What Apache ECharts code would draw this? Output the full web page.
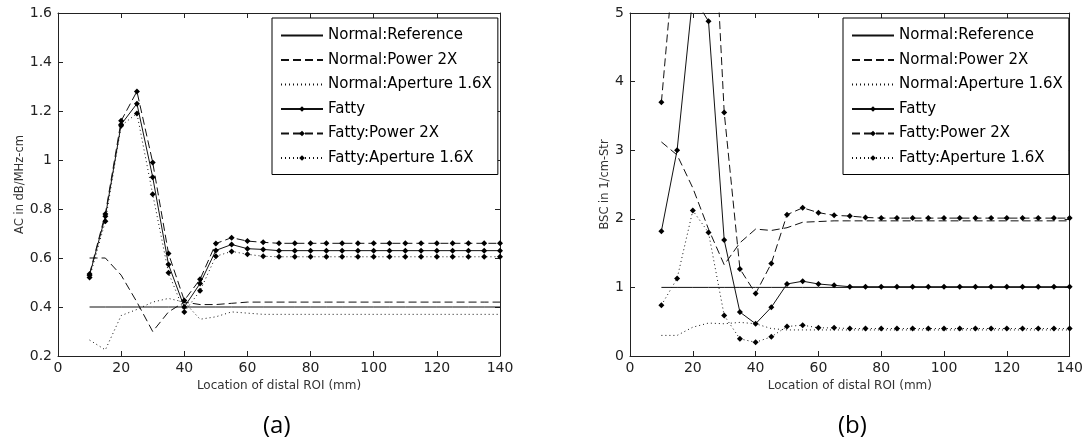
<!DOCTYPE html>
<html>
<head>
<meta charset="utf-8">
<script src="https://cdn.jsdelivr.net/npm/echarts@6/dist/echarts.min.js"></script>
<style>
html,body{margin:0;padding:0;background:#fff;}
#chart{width:1086px;height:448px;}
</style>
</head>
<body>
<div id="chart"></div>
<script>
// ---- data ----
const xLoc = [10,15,20,25,30,35,40,45,50,55,60,65,70,75,80,85,90,95,100,105,110,115,120,125,130,135,140];
const seriesNames = ['Normal:Reference','Normal:Power 2X','Normal:Aperture 1.6X','Fatty','Fatty:Power 2X','Fatty:Aperture 1.6X'];
const xTicks = [0,20,40,60,80,100,120,140];

// (a) AC in dB/MHz-cm
const acNormalRef      = [0.40,0.40,0.40,0.40,0.40,0.40,0.40,0.40,0.40,0.40,0.40,0.40,0.40,0.40,0.40,0.40,0.40,0.40,0.40,0.40,0.40,0.40,0.40,0.40,0.40,0.40,0.40];
const acNormalPower    = [0.60,0.60,0.53,0.42,0.30,0.38,0.42,0.41,0.41,0.415,0.42,0.42,0.42,0.42,0.42,0.42,0.42,0.42,0.42,0.42,0.42,0.42,0.42,0.42,0.42,0.42,0.42];
const acNormalAperture = [0.265,0.225,0.365,0.39,0.42,0.435,0.42,0.35,0.36,0.38,0.375,0.37,0.37,0.37,0.37,0.37,0.37,0.37,0.37,0.37,0.37,0.37,0.37,0.37,0.37,0.37,0.37];
const acFatty          = [0.53,0.77,1.145,1.23,0.93,0.573,0.40,0.496,0.631,0.655,0.638,0.635,0.63,0.63,0.63,0.63,0.63,0.63,0.63,0.63,0.63,0.63,0.63,0.63,0.63,0.63,0.63];
const acFattyPower     = [0.535,0.78,1.16,1.28,0.99,0.618,0.427,0.513,0.659,0.683,0.669,0.664,0.66,0.66,0.66,0.66,0.66,0.66,0.66,0.66,0.66,0.66,0.66,0.66,0.66,0.66,0.66];
const acFattyAperture  = [0.52,0.75,1.14,1.19,0.86,0.54,0.38,0.466,0.607,0.627,0.615,0.607,0.605,0.605,0.605,0.605,0.605,0.605,0.605,0.605,0.605,0.605,0.605,0.605,0.605,0.605,0.605];

// (b) BSC in 1/cm-Str
const bscNormalRef      = [1,1,1,1,1,1,1,1,1,1,1,1,1,1,1,1,1,1,1,1,1,1,1,1,1,1,1];
const bscNormalPower    = [3.12,2.93,2.45,1.85,1.33,1.65,1.85,1.83,1.87,1.95,1.96,1.97,1.97,1.97,1.97,1.97,1.97,1.97,1.97,1.97,1.97,1.97,1.97,1.97,1.97,1.97,1.97];
const bscNormalAperture = [0.30,0.30,0.42,0.48,0.47,0.49,0.47,0.40,0.38,0.38,0.38,0.38,0.38,0.38,0.38,0.38,0.38,0.38,0.38,0.38,0.38,0.38,0.38,0.38,0.38,0.38,0.38];
const bscFatty          = [1.82,3.0,5.25,4.88,1.69,0.64,0.47,0.71,1.05,1.09,1.05,1.03,1.01,1.01,1.01,1.01,1.01,1.01,1.01,1.01,1.01,1.01,1.01,1.01,1.01,1.01,1.01];
const bscFattyPower     = [3.7,6.3,7.5,8.1,3.55,1.27,0.91,1.35,2.06,2.16,2.09,2.05,2.04,2.02,2.01,2.01,2.01,2.01,2.01,2.01,2.01,2.01,2.01,2.01,2.01,2.01,2.01];
const bscFattyAperture  = [0.74,1.13,2.12,1.80,0.59,0.25,0.20,0.28,0.43,0.45,0.41,0.41,0.40,0.40,0.40,0.40,0.40,0.40,0.40,0.40,0.40,0.40,0.40,0.40,0.40,0.40,0.40];

// ---- styles ----
const FONT = 'DejaVu Sans';
const styles = [
  {type:'solid',  marker:false},
  {type:[8,4],    marker:false},
  {type:[1,3],    marker:false},
  {type:'solid',  marker:true},
  {type:[8,4],    marker:true},
  {type:[1,3],    marker:true}
];
const acSets  = [acNormalRef,acNormalPower,acNormalAperture,acFatty,acFattyPower,acFattyAperture];
const bscSets = [bscNormalRef,bscNormalPower,bscNormalAperture,bscFatty,bscFattyPower,bscFattyAperture];

function mkSeries(sets, gi){
  return sets.map((vals,i)=>({
    name: seriesNames[i],
    type:'line',
    xAxisIndex: gi, yAxisIndex: gi,
    data: xLoc.map((x,k)=>[x, vals[k]]),
    symbol: styles[i].marker ? 'diamond' : 'none',
    symbolSize: 6,
    showSymbol: styles[i].marker,
    itemStyle:{color:'#000'},
    lineStyle:{color:'#111', width:1, type: styles[i].type},
    clip:true,
    animation:false,
    z: 3
  }));
}

function xAx(gi, pos, labels){
  return {
    type:'value', gridIndex:gi, position:pos, min:0, max:140, interval:20,
    axisLine:{show:true, onZero:false, lineStyle:{color:'#222', width:1}},
    axisTick:{show:true, inside:true, length:5, lineStyle:{color:'#222'}},
    axisLabel:{show:labels, color:'#222', fontFamily:FONT, fontSize:14, margin:5},
    splitLine:{show:false},
    name: labels ? 'Location of distal ROI (mm)' : '',
    nameLocation:'middle', nameGap:22,
    nameTextStyle:{color:'#333', fontFamily:FONT, fontSize:12}
  };
}
function yAx(gi, pos, labels, min, max, itv, name, gap){
  return {
    type:'value', gridIndex:gi, position:pos, min:min, max:max, interval:itv,
    axisLine:{show:true, onZero:false, lineStyle:{color:'#222', width:1}},
    axisTick:{show:true, inside:true, length:5, lineStyle:{color:'#222'}},
    axisLabel:{show:labels, color:'#222', fontFamily:FONT, fontSize:14, margin:6},
    splitLine:{show:false},
    name: labels ? name : '',
    nameLocation:'middle', nameGap:gap, nameRotate:90,
    nameTextStyle:{color:'#333', fontFamily:FONT, fontSize:11.5}
  };
}

function mkLegend(left){
  return {
    left:left, top:18, orient:'vertical',
    data: seriesNames.map((n,i)=> styles[i].marker ? {name:n} : {name:n, itemStyle:{opacity:0}}),
    backgroundColor:'#fff', borderColor:'#000', borderWidth:1,
    padding:[10,6,9,8],
    itemWidth:42, itemHeight:7, itemGap:9.5,
    textStyle:{color:'#000', fontFamily:FONT, fontSize:15},
    selectedMode:false
  };
}

const option = {
  backgroundColor:'#fff',
  animation:false,
  grid:[
    {left:58, top:13, width:442, height:343},
    {left:630, top:13, width:443, height:343}
  ],
  xAxis:[ xAx(0,'bottom',true), xAx(1,'bottom',true), xAx(0,'top',false), xAx(1,'top',false) ],
  yAxis:[
    yAx(0,'left',true,0.2,1.6,0.2,'AC in dB/MHz-cm',32),
    yAx(1,'left',true,0,5,1,'BSC in 1/cm-Str',19),
    yAx(0,'right',false,0.2,1.6,0.2,'',0),
    yAx(1,'right',false,0,5,1,'',0)
  ],
  legend:[ mkLegend(272), mkLegend(843) ],
  graphic:[
    {type:'text', left:263, top:414, style:{text:'(a)', font:'24px "Open Sans"', fill:'#000'}},
    {type:'text', left:838, top:414, style:{text:'(b)', font:'24px "Open Sans"', fill:'#000'}}
  ],
  series: mkSeries(acSets,0).concat(mkSeries(bscSets,1))
};

const chart = echarts.init(document.getElementById('chart'), null, {renderer:'canvas'});
chart.setOption(option);
</script>
</body>
</html>
